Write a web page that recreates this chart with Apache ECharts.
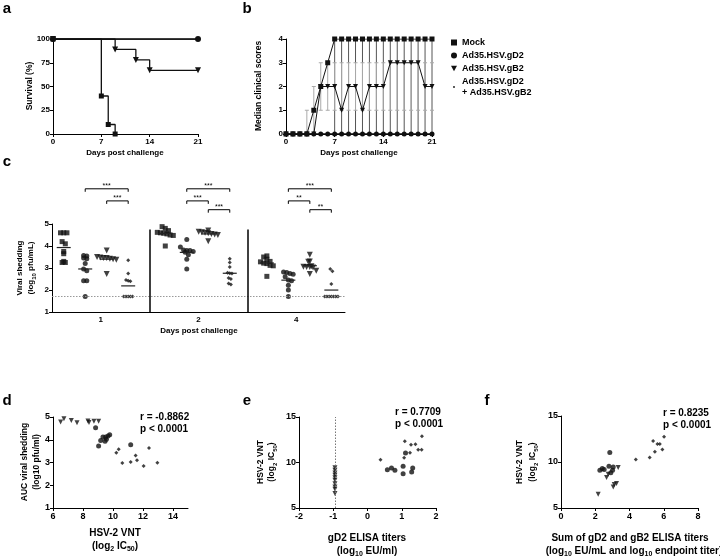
<!DOCTYPE html>
<html><head><meta charset="utf-8">
<script src="https://cdn.jsdelivr.net/npm/echarts@6/dist/echarts.min.js"></script>
<style>html,body{margin:0;padding:0;background:#fff}#chart{width:720px;height:556px}</style>
</head><body><div id="chart"></div>
<script>
// ================= DATA =================
const groupNames = ['Mock', 'Ad35.HSV.gD2', 'Ad35.HSV.gB2', 'Ad35.HSV.gD2\n+ Ad35.HSV.gB2'];

// (a) survival, [day, %]
const survMock  = [[0,100],[7,40],[8,10],[9,0]];
const survGD2   = [[0,100],[21,100]];
const survGB2   = [[0,100],[9,89],[12,78],[14,67],[21,67]];
const survCombo = [[0,100],[21,100]];

// (b) median clinical scores per day
const scoreDays  = [0,1,2,3,4,5,6,7,8,9,10,11,12,13,14,15,16,17,18,19,20,21];
const scoreMock  = [0,0,0,0,1,2,3,4,4,4,4,4,4,4,4,4,4,4,4,4,4,4];
const scoreGD2   = [0,0,0,0,0,0,0,0,0,0,0,0,0,0,0,0,0,0,0,0,0,0];
const scoreGB2   = [0,0,0,0,0,2,2,2,1,2,2,1,2,2,2,3,3,3,3,3,2,2];
const scoreCombo = [0,0,0,0,0,0,0,0,0,0,0,0,0,0,0,0,0,0,0,0,0,0];
const iqrDays = [3,4,5,6,7,8,9,10,11,12,13,14,15,16,17,18,19,20,21];
const iqrLo   = [0,0,1,1,1,1,1,1,1,1,1,1,1,1,1,1,1,1,1];
const iqrHi   = [1,2,3,3,3,3,3,3,3,3,3,3,3,3,3,3,3,3,3];
const rangeDays = [7,8,9,10,11,12,13,14,15,16,17,18,19,20,21];
const rangeLo   = [0,0,0,0,0,0,0,0,0,0,0,0,0,0,0];
const rangeHi   = [4,4,4,4,4,4,4,4,4,4,4,4,4,4,4];

// (c) viral shedding, log10 pfu/mL, per day [day1, day2, day4]
const shedDays  = ['1','2','4'];
const shedMock  = [[4.6,4.6,4.6,4.2,4.1,3.75,3.65,3.3,3.25,3.25],
                   [4.88,4.8,4.7,4.62,4.6,4.58,4.55,4.5,4.48,4.0],
                   [3.55,3.5,3.4,3.3,3.28,3.22,3.2,3.12,3.1,2.62]];
const shedGD2   = [[3.57,3.55,3.45,3.42,3.2,2.95,2.88,2.42,2.42,1.7],
                   [4.3,3.95,3.82,3.8,3.8,3.75,3.72,3.6,3.4,2.95],
                   [2.82,2.8,2.75,2.72,2.6,2.45,2.42,2.22,2.0,1.7]];
const shedGB2   = [[3.8,3.5,3.48,3.45,3.45,3.42,3.4,3.38,2.73],
                   [4.7,4.65,4.62,4.6,4.58,4.55,4.52,4.5,4.22],
                   [3.6,3.3,3.28,3.08,3.06,3.05,3.04,3.02,2.88,2.73]];
const shedCombo = [[3.35,2.75,2.45,2.42,2.4,1.7,1.7,1.7,1.7,1.7],
                   [3.42,3.25,3.05,2.78,2.76,2.75,2.55,2.5,2.3,2.25],
                   [2.95,2.85,2.27,1.7,1.7,1.7,1.7,1.7,1.7,1.7]];
const shedLOD = 1.7;
// significance brackets: day index, from group, to group, level, text
const sigDay   = [0,0,1,1,1,2,2,2];
const sigFrom  = [1,2,1,1,2,1,1,2];
const sigTo    = [3,3,3,2,3,3,2,3];
const sigLevel = [0,1,0,1,2,0,1,2];
const sigText  = ['***','***','***','***','***','***','**','**'];

// (d) HSV-2 VNT (log2 IC50) vs AUC viral shedding
const dGD2   = [[8.84,4.53],[9.04,3.73],[9.18,3.97],[9.33,4.12],[9.47,3.93],[9.51,4.12],[9.56,4.02],[9.67,4.16],[9.78,4.22],[11.18,3.78]];
const dGB2   = [[6.51,4.78],[6.73,4.92],[7.22,4.85],[7.6,4.75],[8.33,4.82],[8.4,4.76],[8.73,4.81],[9.04,4.81]];
const dCombo = [[10.22,3.43],[10.38,3.58],[10.62,2.98],[11.18,3.02],[11.51,3.31],[11.6,3.1],[12.04,2.85],[12.4,3.64],[12.96,2.99]];
const dStats = ['r = -0.8862', 'p < 0.0001'];

// (e) gD2 ELISA (log10 EU/ml) vs HSV-2 VNT
const eGB2   = [[-0.95,9.43],[-0.95,9.14],[-0.95,8.85],[-0.95,8.59],[-0.95,8.33],[-0.95,8.04],[-0.95,7.67],[-0.95,7.31],[-0.95,7.05],[-0.95,6.58]];
const eGD2   = [[0.58,9.21],[0.70,9.40],[0.80,9.14],[1.04,9.58],[1.04,8.77],[1.11,11.04],[1.29,8.96],[1.32,9.40]];
const eCombo = [[0.38,10.31],[1.07,10.53],[1.09,12.33],[1.24,11.08],[1.27,11.96],[1.40,12.0],[1.48,11.41],[1.58,11.41],[1.59,12.88]];
const eLOD = -0.95;
const eStats = ['r = 0.7709', 'p < 0.0001'];

// (f) sum of ELISA titers vs HSV-2 VNT
const fGD2   = [[2.27,9.11],[2.41,9.29],[2.52,9.18],[2.80,9.55],[2.85,11.04],[2.91,8.82],[3.01,9.11],[3.05,9.47]];
const fGB2   = [[2.17,6.49],[2.66,8.31],[2.76,8.67],[3.05,7.29],[3.11,7.55],[3.24,7.65],[3.34,9.4]];
const fCombo = [[4.37,10.27],[5.18,10.49],[5.38,12.27],[5.48,11.11],[5.63,11.95],[5.77,11.95],[5.92,11.36],[6.02,12.75]];
const fStats = ['r = 0.8235', 'p < 0.0001'];

// ================= LAYOUT / STYLE =================
const FF = '"Liberation Sans", Arial, Helvetica, sans-serif';
const TRI = 'path://M0,0L10,0L5,9Z';
const DOT_ICON = 'path://M0,0L0,0M10,10L10,10M5,3.5A1.5,1.5,0,1,1,5,6.5A1.5,1.5,0,1,1,5,3.5Z';
const INK = '#111';
const C = {left:52, top:224, width:293, height:88};
const cPxX = C.width / 3, cPxY = C.height / 4;
const sigLevelY = [6.6, 6.05, 5.65];
function colCenter(g, k) { return g + 0.12 + 0.22 * k + 0.04 * g; }
function swarm(vals, xc, spacingPx, binPx) {
  const bins = new Map();
  vals.forEach(v => { const b = Math.round(v * cPxY / binPx); if (!bins.has(b)) bins.set(b, []); bins.get(b).push(v); });
  const out = [];
  bins.forEach(arr => { const n = arr.length; arr.forEach((v, i) => out.push([xc + (i - (n - 1) / 2) * spacingPx / cPxX, v])); });
  return out;
}
function mean(a) { return a.reduce((s, v) => s + v, 0) / a.length; }

function axis(gi, fs, o, lab, tick) {
  return Object.assign({
    type: 'value', gridIndex: gi,
    axisLine: {show: true, onZero: false, lineStyle: {color: '#000', width: 1}},
    axisTick: Object.assign({show: true, length: 3, lineStyle: {color: '#000', width: 1}}, tick || {}),
    axisLabel: Object.assign({color: '#000', fontSize: fs, fontWeight: 'bold', fontFamily: FF, margin: 3}, lab || {}),
    splitLine: {show: false}
  }, o);
}

const series = [];
// ---- (a)
const aSym = [['rect',5],['circle',6],[TRI,6],['circle',3]];
[survMock, survGD2, survGB2, survCombo].forEach((d, i) => {
  series.push({type:'line', name: groupNames[i], xAxisIndex:0, yAxisIndex:0, data:d, step:'end',
    symbol: aSym[i][0], symbolSize: aSym[i][1], showAllSymbol:true,
    itemStyle:{color:INK, borderWidth:0}, lineStyle:{color:INK, width:1.3}, z: 3 - (i===0?0:1)});
});
// ---- (b)
function errSeries(xs, lo, hi, color, cap) {
  return {type:'custom', xAxisIndex:1, yAxisIndex:1, silent:true, z:1,
    data: xs.map((x, i) => [x, lo[i], hi[i]]),
    renderItem: (p, api) => {
      const a = api.coord([api.value(0), api.value(1)]), b = api.coord([api.value(0), api.value(2)]);
      const ch = [{type:'line', shape:{x1:a[0], y1:a[1], x2:b[0], y2:b[1]}, style:{stroke:color, lineWidth:1}}];
      if (cap) {
        ch.push({type:'line', shape:{x1:a[0]-2, y1:a[1], x2:a[0]+2, y2:a[1]}, style:{stroke:color, lineWidth:1}});
        ch.push({type:'line', shape:{x1:b[0]-2, y1:b[1], x2:b[0]+2, y2:b[1]}, style:{stroke:color, lineWidth:1}});
      }
      return {type:'group', children: ch};
    }};
}
series.push(errSeries(rangeDays, rangeLo, rangeHi, '#555', false));
series.push(errSeries(iqrDays, iqrLo, iqrHi, '#aaa', true));
const bSym = [['rect',5],['circle',5],[TRI,5],['circle',3]];
const bScores = [scoreMock, scoreGD2, scoreGB2, scoreCombo];
[1, 3, 2, 0].forEach((i) => {
  const d = bScores[i];
  series.push({type:'line', name: groupNames[i], xAxisIndex:1, yAxisIndex:1,
    data: scoreDays.map((x, j) => [x, d[j]]),
    symbol: bSym[i][0], symbolSize: bSym[i][1], showAllSymbol:true,
    itemStyle:{color:INK, borderWidth:0}, lineStyle:{color:INK, width:1}, z:3});
});
// ---- (c)
const cSym = [['rect',5,3.2],['circle',5,3.2],[TRI,6,3.2],['diamond',4,2.2]];
[shedMock, shedGD2, shedGB2, shedCombo].forEach((grp, k) => {
  let pts = [];
  grp.forEach((vals, g) => { pts = pts.concat(swarm(vals, colCenter(g, k), cSym[k][2], 5)); });
  const s = {type:'scatter', name: groupNames[k], xAxisIndex:2, yAxisIndex:2, data: pts,
    symbol: cSym[k][0], symbolSize: cSym[k][1], itemStyle:{color:INK}, z:3};
  if (k === 0) {
    s.markLine = {silent:true, symbol:'none', label:{show:false}, animation:false,
      data: [
        {yAxis: shedLOD, lineStyle:{type:[1.5,1.5], color:'#999', width:1}},
        [{coord:[1,1], lineStyle:{type:'solid', color:'#000', width:1.5}}, {coord:[1,4.75]}],
        [{coord:[2,1], lineStyle:{type:'solid', color:'#000', width:1.5}}, {coord:[2,4.75]}]
      ]};
  }
  series.push(s);
});
const meanData = [];
[shedMock, shedGD2, shedGB2, shedCombo].forEach((grp, k) => grp.forEach((vals, g) => meanData.push([colCenter(g, k), mean(vals)])));
series.push({type:'custom', xAxisIndex:2, yAxisIndex:2, silent:true, z:4, data: meanData,
  renderItem: (p, api) => {
    const c = api.coord([api.value(0), api.value(1)]);
    return {type:'line', shape:{x1:c[0]-7, y1:c[1], x2:c[0]+7, y2:c[1]}, style:{stroke:'#222', lineWidth:1.2}};
  }});
series.push({type:'custom', xAxisIndex:2, yAxisIndex:2, silent:true, clip:false, z:4,
  data: sigDay.map((g, i) => [colCenter(g, sigFrom[i]), colCenter(g, sigTo[i]), sigLevelY[sigLevel[i]]]),
  renderItem: (p, api) => {
    const a = api.coord([api.value(0), api.value(2)]), b = api.coord([api.value(1), api.value(2)]);
    return {type:'group', children:[
      {type:'polyline', shape:{points:[[a[0], a[1]+3], [a[0], a[1]], [b[0], b[1]], [b[0], b[1]+3]]}, style:{stroke:'#000', lineWidth:1, fill:null}},
      {type:'text', x:(a[0]+b[0])/2, y:a[1]+1, style:{text: sigText[p.dataIndex], align:'center', verticalAlign:'bottom', fontSize:7, fontFamily:FF, fill:'#000'}}
    ]};
  }});
// ---- (d)(e)(f)
const sSym = {gd2:['circle',5], gb2:[TRI,5], combo:['diamond',4]};
function sc(ai, d, key, name) {
  return {type:'scatter', name, xAxisIndex:ai, yAxisIndex:ai, data:d, symbol:sSym[key][0], symbolSize:sSym[key][1], itemStyle:{color:INK}, z:3};
}
series.push(sc(3, dGB2, 'gb2', groupNames[2]), sc(3, dGD2, 'gd2', groupNames[1]), sc(3, dCombo, 'combo', groupNames[3]));
const eS = sc(4, eGB2, 'gb2', groupNames[2]);
eS.markLine = {silent:true, symbol:'none', label:{show:false}, animation:false, data:[{xAxis:eLOD}], lineStyle:{type:[1.5,1.5], color:'#777', width:1}};
series.push(eS, sc(4, eGD2, 'gd2', groupNames[1]), sc(4, eCombo, 'combo', groupNames[3]));
series.push(sc(5, fGB2, 'gb2', groupNames[2]), sc(5, fGD2, 'gd2', groupNames[1]), sc(5, fCombo, 'combo', groupNames[3]));

// ---- texts
const base = {fontFamily: FF, fontWeight: 'bold', fill: '#000'};
function txt(x, y, text, fs, o) {
  return Object.assign({type:'text', x, y, silent:true, style: Object.assign({}, base, {text, fontSize: fs, align:'center', verticalAlign:'middle'}, o && o.style)}, o && o.el);
}
function sub(fs) { return {n:{fontSize:fs, fontWeight:'bold', fontFamily:FF, fill:'#000'}, s:{fontSize:Math.round(fs*0.7), fontWeight:'bold', fontFamily:FF, fill:'#000', verticalAlign:'bottom', padding:[0,0,-2,0]}}; }
function rtxt(x, y, text, fs, rot) {
  const el = {type:'text', x, y, silent:true, style: Object.assign({}, base, {text, fontSize: fs, align:'center', verticalAlign:'middle', rich: sub(fs)})};
  if (rot) el.rotation = Math.PI / 2;
  return el;
}
const graphics = [
  txt(7, 9, 'a', 15), txt(247, 9, 'b', 15), txt(7, 162, 'c', 15),
  txt(7, 401, 'd', 15), txt(247, 401, 'e', 15), txt(487, 401, 'f', 15),
  rtxt(30, 86, 'Survival (%)', 8.5, true),
  rtxt(259, 86, 'Median clinical scores', 8.5, true),
  rtxt(125, 153, 'Days post challenge', 8),
  rtxt(359, 153, 'Days post challenge', 8),
  rtxt(20, 268, 'Viral shedding', 8, true),
  rtxt(31, 268, '({n|log}{s|10}{n| pfu/mL)}', 8, true),
  rtxt(199, 331, 'Days post challenge', 8),
  rtxt(25, 462, 'AUC viral shedding', 8.5, true),
  rtxt(37, 462, '(log10 pfu/ml)', 8.5, true),
  rtxt(115, 533, 'HSV-2 VNT', 10),
  rtxt(115, 546, '({n|log}{s|2}{n| IC}{s|50}{n|)}', 10),
  rtxt(261, 462, 'HSV-2 VNT', 8.5, true),
  rtxt(272, 462, '({n|log}{s|2}{n| IC}{s|50}{n|)}', 8.5, true),
  rtxt(367, 538, 'gD2 ELISA titers', 10),
  rtxt(367, 551, '({n|log}{s|10}{n| EU/ml)}', 10),
  rtxt(520, 462, 'HSV-2 VNT', 8.5, true),
  rtxt(533, 462, '({n|log}{s|2}{n| IC}{s|50}{n|)}', 8.5, true),
  rtxt(630, 538, 'Sum of gD2 and gB2 ELISA titers', 10),
  rtxt(634, 551, '({n|log}{s|10}{n| EU/mL and log}{s|10}{n| endpoint titer)}', 10),
];
[[140, 417, dStats], [395, 412, eStats], [663, 413, fStats]].forEach(([x, y, st]) => {
  graphics.push(txt(x, y, st[0], 10, {style:{align:'left'}}));
  graphics.push(txt(x, y + 12, st[1], 10, {style:{align:'left'}}));
});

const option = {
  animation: false,
  backgroundColor: '#fff',
  textStyle: {fontFamily: FF},
  grid: [
    {left:53, top:39, width:145, height:95},
    {left:286, top:39, width:146, height:95},
    {left:C.left, top:C.top, width:C.width, height:C.height},
    {left:53, top:417, width:135, height:91},
    {left:299, top:417, width:137, height:91},
    {left:561, top:416, width:137, height:92}
  ],
  xAxis: [
    axis(0, 8, {min:0, max:21, interval:7}, {margin:4}),
    axis(1, 8, {min:0, max:21, interval:7}, {margin:4}),
    axis(2, 8, {min:0, max:3}, {customValues:[0.5,1.5,2.5], formatter: v => shedDays[Math.round(v - 0.5)], margin:4}, {show:false}),
    axis(3, 9, {min:6, max:15, interval:2}, {customValues:[6,8,10,12,14], margin:4}, {customValues:[6,8,10,12,14]}),
    axis(4, 9, {min:-2, max:2, interval:1}, {margin:4}),
    axis(5, 9, {min:0, max:8, interval:2}, {margin:4})
  ],
  yAxis: [
    axis(0, 8, {min:0, max:100, interval:25}),
    axis(1, 8, {min:0, max:4, interval:1}),
    axis(2, 8, {min:1, max:5, interval:1}),
    axis(3, 9, {min:1, max:5, interval:1}),
    axis(4, 9, {min:5, max:15, interval:5}),
    axis(5, 9, {min:5, max:15, interval:5})
  ],
  legend: {
    data: [{name:groupNames[0], icon:'rect'}, {name:groupNames[1], icon:'circle'}, {name:groupNames[2], icon:TRI}, {name:groupNames[3], icon:DOT_ICON}],
    orient:'vertical', left:446, top:32, itemWidth:6, itemHeight:6, itemGap:2, selectedMode:false,
    itemStyle:{borderWidth:0},
    textStyle:{fontSize:9, fontWeight:'bold', fontFamily:FF, color:'#000', lineHeight:11}
  },
  graphic: graphics,
  series
};
const chart = echarts.init(document.getElementById('chart'), null, {renderer:'canvas'});
chart.setOption(option);
</script></body></html>
